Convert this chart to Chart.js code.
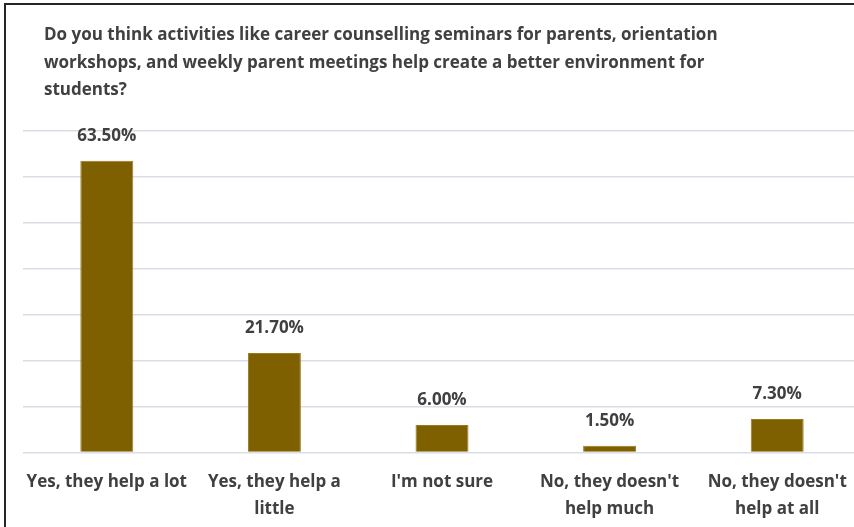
<!DOCTYPE html>
<html>
<head>
<meta charset="utf-8">
<script src="https://cdn.jsdelivr.net/npm/chart.js@4"></script>
<style>
  html, body { margin: 0; padding: 0; background: #fff; overflow: hidden; }
  #frame {
    position: absolute; left: 4px; top: 3px;
    width: 880px; height: 540px;
    border-top: 2px solid #262626; border-left: 2px solid #262626;
  }
  #wrap { position: absolute; left: 0; top: 0; width: 856px; height: 526px; }
</style>
</head>
<body>
<div id="frame"><div id="wrap"><canvas id="chart"></canvas></div></div>
<script>
const titleLines = [
  "Do you think activities like career counselling seminars for parents, orientation",
  "workshops, and weekly parent meetings help create a better environment for",
  "students?"
];
const categories = [
  ["Yes, they help a lot"],
  ["Yes, they help a", "little"],
  ["I'm not sure"],
  ["No, they doesn't", "help much"],
  ["No, they doesn't", "help at all"]
];
const percentages = [63.5, 21.7, 6.0, 1.5, 7.3];
const yMax = 70;
const yStep = 10;

const textColor = "#404040";
const fontFamily = "'Open Sans', sans-serif";
const fontSize = 17;

// title drawn by hand so it can sit further right than the plot
const chartTitle = {
  id: "chartTitle",
  afterDraw(chart) {
    const ctx = chart.ctx;
    ctx.save();
    ctx.font = "bold " + fontSize + "px " + fontFamily;
    ctx.fillStyle = textColor;
    ctx.textAlign = "left";
    ctx.textBaseline = "middle";
    titleLines.forEach((line, i) => {
      ctx.fillText(line, 38, 30.5 + i * 27.5);
    });
    ctx.restore();
  }
};

// data labels above bars
const barLabels = {
  id: "barLabels",
  afterDatasetsDraw(chart) {
    const ctx = chart.ctx;
    const meta = chart.getDatasetMeta(0);
    ctx.save();
    ctx.font = "bold " + fontSize + "px " + fontFamily;
    ctx.fillStyle = textColor;
    ctx.textAlign = "center";
    ctx.textBaseline = "middle";
    meta.data.forEach((bar, i) => {
      ctx.fillText(percentages[i].toFixed(2) + "%", bar.x, bar.y - 25);
    });
    ctx.restore();
  }
};

new Chart(document.getElementById("chart"), {
  type: "bar",
  data: {
    labels: categories,
    datasets: [{
      data: percentages,
      backgroundColor: "#7f6000",
      borderColor: "#9a7a1e",
      borderWidth: 1,
      barPercentage: 0.316,
      categoryPercentage: 1
    }]
  },
  options: {
    responsive: true,
    maintainAspectRatio: false,
    animation: false,
    layout: { padding: { left: 17, right: 1, top: 126, bottom: 0 } },
    plugins: {
      legend: { display: false },
      tooltip: { enabled: false },
      title: { display: false }
    },
    scales: {
      x: {
        grid: { display: false },
        border: { display: false },
        ticks: {
          color: textColor,
          font: { family: fontFamily, size: fontSize, weight: "bold", lineHeight: 1.6 },
          padding: 8,
          maxRotation: 0,
          autoSkip: false
        }
      },
      y: {
        min: 0,
        max: yMax,
        ticks: { display: false, stepSize: yStep },
        grid: { color: "#d9dee6", lineWidth: 1.5, drawTicks: false },
        border: { display: false }
      }
    }
  },
  plugins: [barLabels, chartTitle]
});
</script>
</body>
</html>
